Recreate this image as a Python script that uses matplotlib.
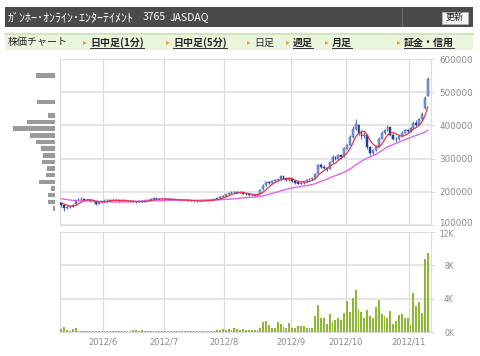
import numpy as np
import pandas as pd
import matplotlib
matplotlib.use('Agg')
import matplotlib.pyplot as plt
from matplotlib.patches import Rectangle
from matplotlib.lines import Line2D
from matplotlib.transforms import ScaledTranslation

plt.rcParams['font.family'] = ['Noto Sans CJK JP', 'DejaVu Sans']

# 日足 (千円) 2012/5/11 - 2012/11/9
open_k = [166, 160, 151, 153, 156, 162, 173, 177, 179, 176, 175, 173, 171, 164, 168,
          171, 174, 176, 173, 175, 174, 172, 175, 173, 171, 172, 170, 169, 171, 170, 174, 176, 178, 180, 179, 178,
          179, 177, 176, 178, 175, 176, 174, 175, 176, 173, 172, 171, 173, 172, 174, 175, 174, 176, 177, 180, 184,
          188, 192, 195, 198, 200, 197, 199, 194, 192, 190, 191, 188, 194, 207, 220, 230, 226, 232, 235, 238, 248, 240, 236,
          240, 232, 228, 225, 226, 232, 235, 238, 241, 255, 280, 275, 272, 270, 290, 305, 298, 310, 306,
          330, 342, 365, 390, 402, 378, 368, 370, 333, 318, 325, 336, 360, 378, 385, 394, 372, 360, 358, 368, 378, 385,
          382, 392, 408, 402, 418, 452, 490]
high_k = [168, 161, 156, 158, 162, 176, 181, 183, 181, 179, 177, 175, 172, 170, 173,
          176, 178, 177, 177, 177, 175, 177, 176, 174, 174, 173, 172, 173, 172, 176, 178, 180, 183, 182, 181, 182,
          180, 178, 180, 179, 178, 177, 177, 178, 177, 175, 173, 174, 174, 176, 177, 176, 177, 178, 182, 186, 190,
          194, 197, 201, 203, 202, 201, 200, 196, 194, 193, 192, 195, 208, 222, 234, 232, 235, 238, 240, 252, 249, 242, 244,
          241, 234, 230, 229, 234, 238, 241, 243, 256, 285, 288, 280, 276, 294, 310, 308, 315, 312, 334,
          345, 370, 398, 418, 405, 385, 380, 372, 338, 330, 340, 365, 382, 390, 400, 396, 375, 366, 372, 382, 388, 390,
          395, 412, 415, 422, 440, 488, 545]
low_k = [155, 143, 149, 151, 154, 161, 171, 175, 174, 172, 170, 168, 160, 163, 166,
         169, 172, 171, 172, 172, 170, 171, 171, 169, 169, 168, 167, 168, 168, 169, 173, 175, 177, 177, 176, 177,
         176, 174, 175, 174, 174, 172, 173, 174, 172, 171, 169, 170, 171, 171, 173, 172, 173, 174, 176, 179, 183,
         187, 190, 194, 196, 195, 196, 192, 190, 188, 188, 186, 187, 193, 205, 218, 222, 224, 229, 232, 236, 238, 233, 234,
         230, 225, 222, 222, 225, 230, 233, 236, 240, 254, 272, 268, 264, 269, 288, 295, 297, 300, 305,
         328, 340, 362, 385, 370, 360, 362, 330, 310, 312, 322, 334, 358, 375, 382, 368, 355, 350, 356, 366, 376, 378,
         380, 390, 398, 400, 415, 450, 488]
close_k = [160, 152, 153, 156, 160, 173, 177, 179, 176, 175, 173, 171, 164, 168, 171,
           174, 176, 173, 175, 174, 172, 175, 173, 171, 172, 170, 169, 171, 170, 174, 176, 178, 180, 179, 178, 179,
           177, 176, 178, 175, 176, 174, 175, 176, 173, 172, 171, 173, 172, 174, 175, 174, 176, 177, 180, 184, 188,
           192, 195, 198, 200, 197, 199, 194, 192, 190, 191, 188, 193, 206, 218, 230, 226, 232, 235, 237, 248, 240, 236, 240,
           232, 228, 225, 226, 232, 235, 238, 240, 252, 280, 275, 272, 268, 290, 305, 298, 310, 305, 330,
           340, 365, 390, 405, 378, 368, 372, 335, 318, 325, 335, 360, 378, 385, 395, 372, 360, 358, 368, 378, 385, 382,
           392, 408, 402, 418, 435, 482, 540]
# 出来高 (千株)
volume_k = [0.35, 0.55, 0.25, 0.15, 0.4, 0.45, 0.15, 0.12, 0.1, 0.1, 0.1, 0.1, 0.12, 0.15, 0.1,
            0.18, 0.12, 0.1, 0.1, 0.08, 0.1, 0.12, 0.1, 0.15, 0.1, 0.2, 0.25, 0.15, 0.22, 0.12, 0.1, 0.1, 0.08, 0.1, 0.08, 0.1,
            0.08, 0.08, 0.1, 0.08, 0.08, 0.1, 0.08, 0.1, 0.08, 0.12, 0.1, 0.08, 0.1, 0.1, 0.12, 0.1, 0.1, 0.15, 0.2, 0.3, 0.35,
            0.25, 0.4, 0.3, 0.5, 0.35, 0.27, 0.4, 0.25, 0.25, 0.25, 0.25, 0.25, 0.5, 1.2, 1.33, 0.86, 0.5, 0.43, 1.2, 1.0, 0.63, 0.43, 1.1,
            0.5, 0.43, 0.7, 0.7, 0.7, 0.43, 0.43, 0.43, 1.9, 3.25, 1.7, 1.65, 0.94, 2.2, 1.18, 1.5, 1.7, 1.4, 2.27,
            3.76, 2.35, 4.08, 5.1, 2.8, 2.4, 1.7, 2.6, 1.9, 1.7, 3.0, 3.85, 2.15, 1.96, 1.7, 2.47, 0.98, 1.37, 2.04, 2.2, 1.72, 1.72,
            0.86, 4.63, 3.14, 3.57, 2.27, 8.8, 9.5]
# 表示期間より前の終値 (移動平均の計算用, 千円)
close_before_k = [186, 188, 186, 185, 186, 184, 183, 184, 185, 182, 181, 182,
                  180, 182, 184, 181, 179, 178, 177, 175, 172, 170, 168, 166]

month_labels = ['2012/6', '2012/7', '2012/8', '2012/9', '2012/10', '2012/11']
month_first_day = [15, 36, 57, 80, 99, 121]

# 価格帯別出来高
profile_price_k = [150, 170, 190, 210, 230, 250, 270, 290, 310, 330, 350,
                   370, 390, 410, 430, 450, 470, 490, 510, 530, 550]
profile_volume = [2, 7, 7, 4, 16.3, 9.3, 8, 13, 11.7, 14.3, 19.3,
                  24.7, 41.7, 28, 7.3, 0, 17.7, 0, 0, 0, 19]

W, H = 480, 356


def fx(x):
    return x / W


def fy(y):
    return 1 - y / H


o = np.array(open_k) * 1000
hi = np.array(high_k) * 1000
lo = np.array(low_k) * 1000
c = np.array(close_k) * 1000
n = len(c)
idx = np.arange(n)

allc = pd.Series(np.r_[np.array(close_before_k) * 1000, c])
ma5 = allc.rolling(5).mean().values[-n:]
ma25 = allc.rolling(25).mean().values[-n:]

fig = plt.figure(figsize=(4.8, 3.56), dpi=100)

# ヘッダー
fig.add_artist(Rectangle((fx(5), fy(27)), fx(468), 20 / H, transform=fig.transFigure,
                         facecolor='#4a4a4a', edgecolor='none'))
fig.add_artist(Line2D([fx(402), fx(402)], [fy(8), fy(26)], color='#6e6e6e', lw=0.8))
fig.text(fx(8), fy(17.5), 'ｶﾞﾝﾎｰ･ｵﾝﾗｲﾝ･ｴﾝﾀｰﾃｲﾒﾝﾄ', color='white', fontsize=8.6, va='center')
fig.text(fx(143), fy(17.5), '3765', color='white', fontsize=7.5, va='center')
fig.text(fx(170), fy(17.5), 'JASDAQ', color='white', fontsize=7.5, va='center')
fig.add_artist(Rectangle((fx(442), fy(23.5)), 26 / W, 11.5 / H, transform=fig.transFigure,
                         facecolor='#f4f4f4', edgecolor='#b0b0b0', lw=0.6))
fig.text(fx(455), fy(17.8), '更新', color='#222222', fontsize=6.5, va='center', ha='center')

# メニュー
fig.add_artist(Rectangle((fx(5), fy(50)), fx(468), 17 / H, transform=fig.transFigure,
                         facecolor='#ebf5de', edgecolor='none'))
fig.add_artist(Line2D([fx(5), fx(473)], [fy(34), fy(34)], color='#d2e6bb', lw=1.6))
fig.text(fx(8), fy(42.5), '株価チャート', color='#222222', fontsize=7.2, va='center')
menu = [(83, '日中足(1分)', True), (166, '日中足(5分)', True), (247, '日足', False),
        (286, '週足', True), (325, '月足', True), (397, '証金・信用', True)]
for mx, label, link in menu:
    fig.text(fx(mx), fy(42), '▸', color='#f0a030', fontsize=5.5, va='center', family='DejaVu Sans')
    t = fig.text(fx(mx + 7), fy(42.5), label, color='#222222', fontsize=7.2, va='center',
                 weight='bold' if link else 'normal')
    if link:
        fig.canvas.draw()
        bb = t.get_window_extent()
        fig.add_artist(Line2D([bb.x0 / W, bb.x1 / W], [fy(47.5), fy(47.5)], color='#333333', lw=0.7))

# 価格チャート
ax_p = fig.add_axes([fx(60), fy(225), 371 / W, 166 / H])
ax_v = fig.add_axes([fx(60), fy(332), 371 / W, 100 / H])
ax_h = fig.add_axes([fx(12), fy(225), 43 / W, 166 / H])

grid_h = '#e3e3e3'
grid_v = '#d9d9d9'
month_pos = np.array(month_first_day) - 0.5

for ax in (ax_p, ax_v):
    ax.set_xlim(-0.4, 128.1)
    for s in ax.spines.values():
        s.set_color('#dddddd')
        s.set_linewidth(0.8)
    for xm in month_pos:
        ax.axvline(xm, color=grid_v, lw=0.8, zorder=0)
    ax.yaxis.tick_right()
    ax.tick_params(axis='y', colors='#cccccc', labelcolor='#8a8a8a', length=2.5, width=0.6)

up = c >= o
ax_p.vlines(idx, lo, hi, color='#2f4fa8', lw=0.6, zorder=2)
ax_p.bar(idx[up], (c - o)[up] + 500, bottom=o[up], width=0.62, color='#7f9dd2',
         edgecolor='#4262b4', lw=0.35, zorder=3)
ax_p.bar(idx[~up], (o - c)[~up] + 500, bottom=c[~up], width=0.62, color='#1d3a94',
         edgecolor='#1d3a94', lw=0.35, zorder=3)
ax_p.plot(idx, ma25, color='#dd66ee', lw=1.0, zorder=4)
ax_p.plot(idx, ma5, color='#e8324c', lw=0.9, zorder=4)
ax_p.set_ylim(100000, 600000)
yt = [100000, 200000, 300000, 400000, 500000, 600000]
ax_p.set_yticks(yt)
ax_p.set_yticklabels([str(v) for v in yt], fontsize=6.3, family='DejaVu Sans')
for v in yt:
    ax_p.axhline(v, color=grid_h, lw=1.3, zorder=0)
ax_p.set_xticks([])
# 最下段ラベルは出来高の目盛と重ならないよう少し上へ
lab0 = ax_p.get_yticklabels()[0]
lab0.set_transform(lab0.get_transform() + ScaledTranslation(0, 2.5 / 100, fig.dpi_scale_trans))

# 出来高
ax_v.bar(idx, volume_k, width=0.65, color='#8cb833', zorder=3)
ax_v.set_ylim(0, 12)
vt = [0, 4, 8, 12]
ax_v.set_yticks(vt)
ax_v.set_yticklabels(['%dK' % v for v in vt], fontsize=5.5, family='DejaVu Sans')
for lab in ax_v.get_yticklabels():
    lab.set_horizontalalignment('right')
ax_v.tick_params(axis='y', pad=14)
lab12 = ax_v.get_yticklabels()[-1]
lab12.set_transform(lab12.get_transform() + ScaledTranslation(0, -1.5 / 100, fig.dpi_scale_trans))
for v in vt:
    ax_v.axhline(v, color=grid_h, lw=1.3, zorder=0)
ax_v.set_xticks(month_pos)
ax_v.set_xticklabels(month_labels, fontsize=6, color='#8a8a8a', family='DejaVu Sans')
ax_v.tick_params(axis='x', length=0, pad=4)

# 価格帯別出来高
ax_h.barh(np.array(profile_price_k) * 1000, profile_volume, height=13500, color='#9a9a9a')
ax_h.set_xlim(43, 0)
ax_h.set_ylim(100000, 600000)
ax_h.axis('off')

fig.savefig('out.png', dpi=100)
